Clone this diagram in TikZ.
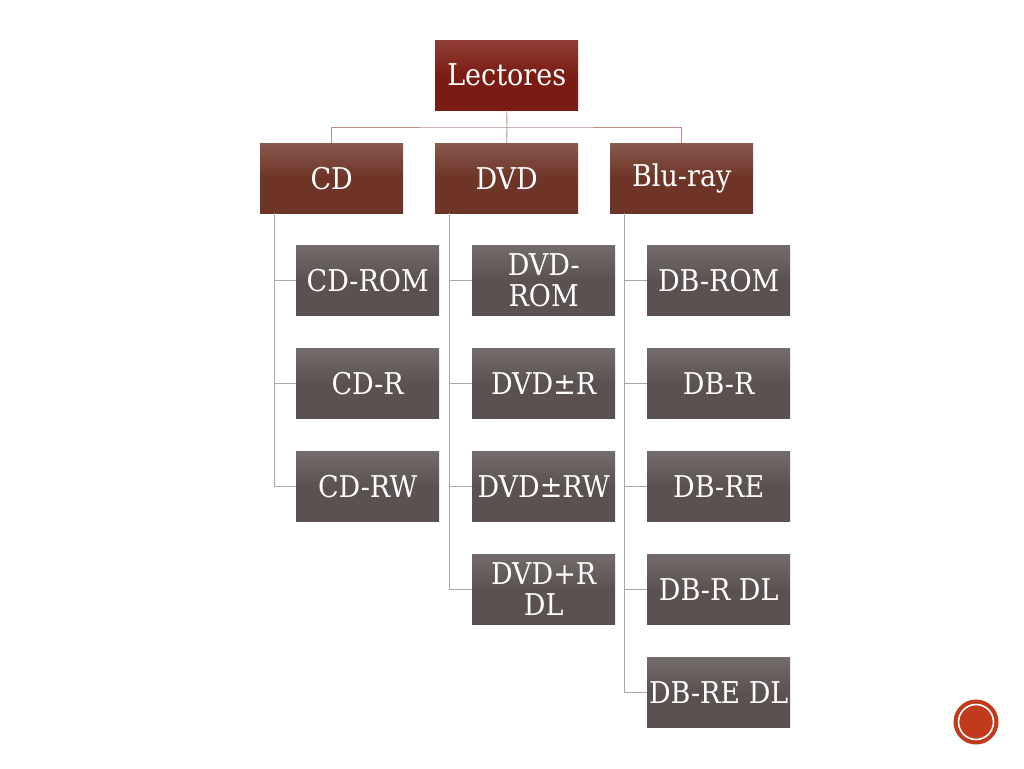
\documentclass[tikz,border=0pt]{standalone}
\usepackage{fontspec}
\setmainfont{DejaVu Serif Condensed}
\begin{document}
\begin{tikzpicture}[x=1pt,y=-1pt,
  base/.style={minimum width=143pt,minimum height=70pt,inner sep=0pt,text=white,
    font=\fontsize{30}{31}\selectfont,align=center,anchor=north west},
  topbox/.style={base,top color=lred!85!white,bottom color=lred,middle color=lred},
  lvlbox/.style={base,top color=lbrown!82!white,bottom color=lbrown,middle color=lbrown},
  leafbox/.style={base,top color=lgray!85!white,bottom color=lgray,middle color=lgray},
  toplink/.style={draw=linkred,line width=0.9pt},
  leaflink/.style={draw=linkgray,line width=0.9pt}]
\definecolor{lred}{HTML}{7A1C14}
\definecolor{lbrown}{HTML}{6E3427}
\definecolor{lgray}{HTML}{5B5151}
\definecolor{linkred}{HTML}{BC8C86}
\definecolor{linkgray}{HTML}{ABA7A7}
\definecolor{circ}{HTML}{C23A1C}
\useasboundingbox (0,0) rectangle (1024,768);
\fill[white] (0,0) rectangle (1024,768);
% top
\node[topbox] (lec) at (435,40) {Lectores};
\node[lvlbox] (cd) at (260,143) {CD};
\node[lvlbox] (dvd) at (435,143) {DVD};
\node[lvlbox] (blu) at (610,143) {Blu-ray};
\coordinate (j) at (507,127);
\draw[toplink] (lec.south) -- (j);
\draw[toplink] (cd.north) |- (j) -| (blu.north);
\draw[toplink] (dvd.north) -- (j);
% CD
\node[leafbox] (cd1) at (296,245) {CD-ROM};
\node[leafbox] (cd2) at (296,348) {CD-R};
\node[leafbox] (cd3) at (296,451) {CD-RW};
% DVD
\node[leafbox] (dvd1) at (472,245) {DVD-\\ROM};
\node[leafbox] (dvd2) at (472,348) {DVD±R};
\node[leafbox] (dvd3) at (472,451) {DVD±RW};
\node[leafbox] (dvd4) at (472,554) {DVD+R\\DL};
% Blu-ray
\node[leafbox] (b1) at (647,245) {DB-ROM};
\node[leafbox] (b2) at (647,348) {DB-R};
\node[leafbox] (b3) at (647,451) {DB-RE};
\node[leafbox] (b4) at (647,554) {DB-R DL};
\node[leafbox] (b5) at (647,657) {DB-RE DL};
% leaf links
\coordinate (cdx) at ([xshift=14pt]cd.south west);
\foreach \n in {cd1,cd2,cd3}{\draw[leaflink] (cdx) |- (\n.west);}
\coordinate (dvdx) at ([xshift=14pt]dvd.south west);
\foreach \n in {dvd1,dvd2,dvd3,dvd4}{\draw[leaflink] (dvdx) |- (\n.west);}
\coordinate (blux) at ([xshift=14pt]blu.south west);
\foreach \n in {b1,b2,b3,b4,b5}{\draw[leaflink] (blux) |- (\n.west);}
% page badge
\node[circle,fill=circ,minimum size=45pt,inner sep=0pt] (badge) at (976,722) {};
\draw[white,line width=1.6pt] (badge.center) circle (17.5pt);
\end{tikzpicture}
\end{document}
